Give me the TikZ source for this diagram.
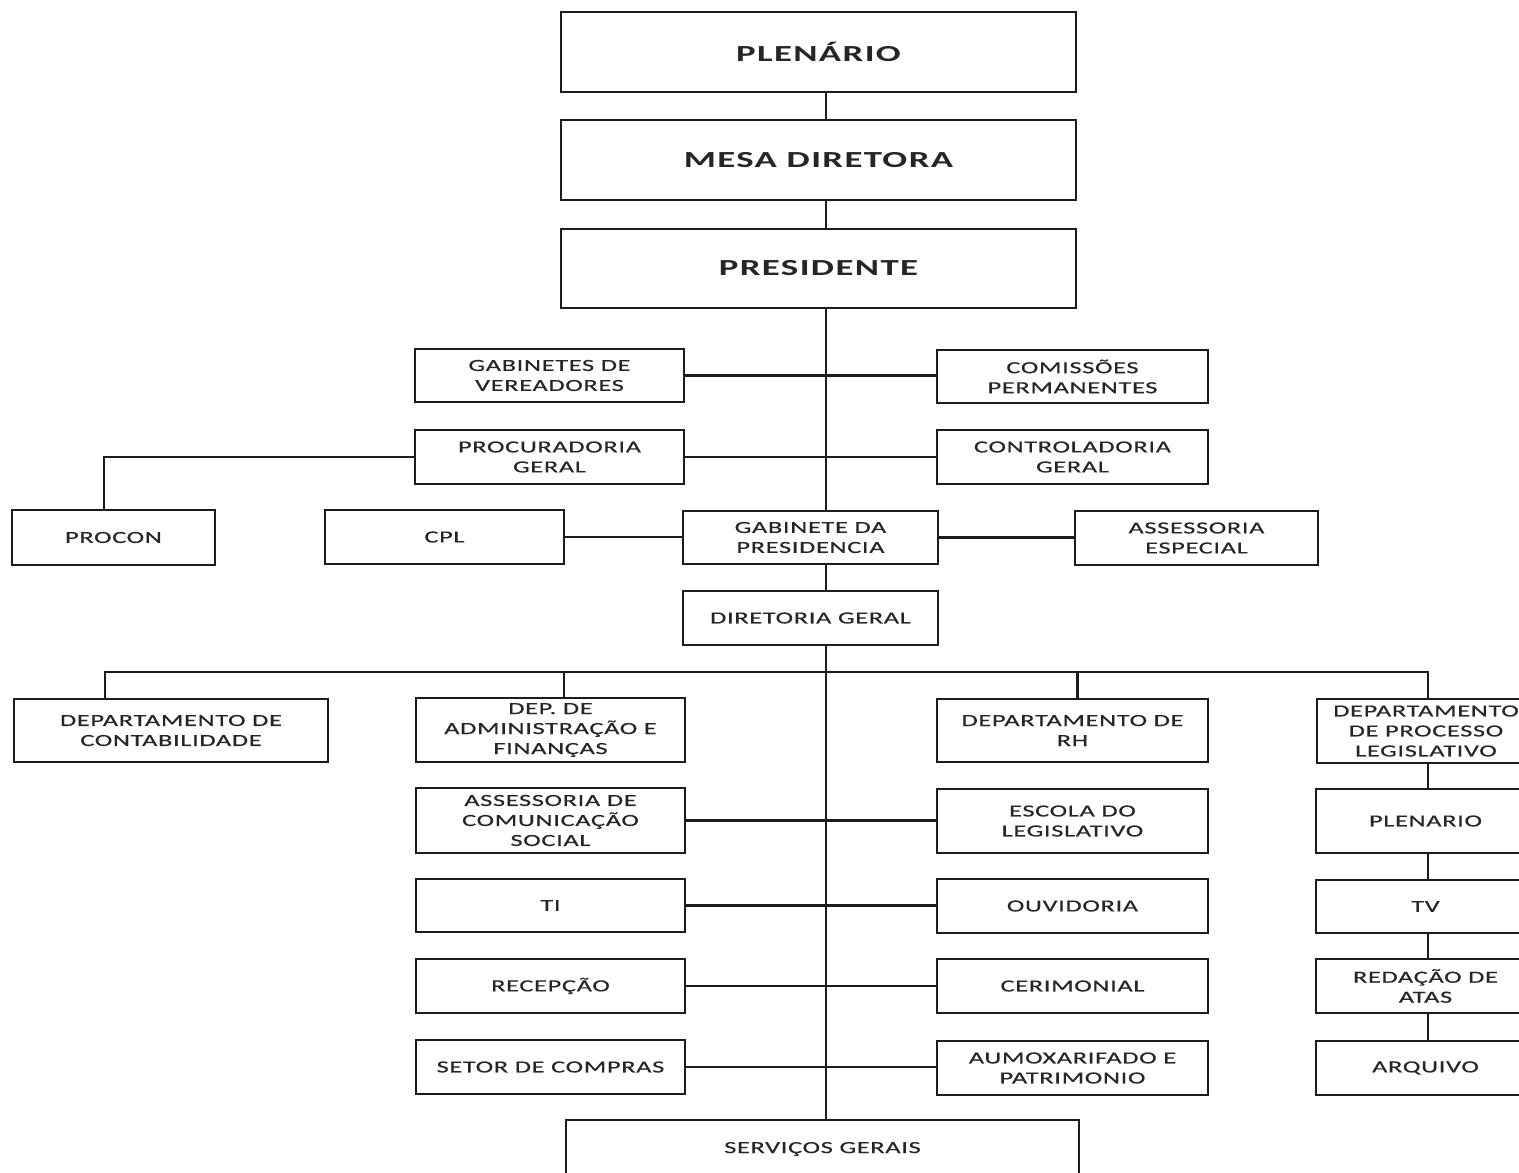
\documentclass[tikz,border=0pt]{standalone}
\usepackage{fontspec}
\newfontfamily\labfont[FakeStretch=1.55,LetterSpace=4,FakeBold=0.4]{Carlito}
\newfontfamily\headfont[FakeStretch=1.6,LetterSpace=6]{Carlito}
\definecolor{ink}{HTML}{1C1C1C}
\definecolor{txt}{HTML}{262626}
\begin{document}
\begin{tikzpicture}[x=1pt,y=-1pt,
  box/.style={draw=ink, line width=2.8pt, fill=white, align=center, inner sep=0pt,
    text=txt, font=\labfont\fontsize{17}{20}\selectfont},
  headbox/.style={box, font=\headfont\bfseries\fontsize{23}{26}\selectfont},
  conn/.style={draw=ink, line width=2.6pt}]
\useasboundingbox (0,0) rectangle (1519,1173);
\fill[white] (0,0) rectangle (1519,1173);
\clip (0,0) rectangle (1519,1173);
\coordinate (trunk) at (826,0);
\coordinate (col) at (1428,0);
\coordinate (bus) at (826,672);
% top hierarchy
\node[headbox, minimum width=515, minimum height=80] (plen) at (818.5,52) {PLENÁRIO};
\node[headbox, minimum width=515, minimum height=80] (mesa) at (818.5,160) {MESA DIRETORA};
\node[headbox, minimum width=515, minimum height=79] (pres) at (818.5,268.5) {PRESIDENTE};
% advisory rows
\node[box, minimum width=269, minimum height=53] (gabver) at (549.5,375.5) {GABINETES DE\\VEREADORES};
\node[box, minimum width=271, minimum height=53] (comis) at (1072.5,376.5) {COMISSÕES\\PERMANENTES};
\node[box, minimum width=269, minimum height=54] (procur) at (549.5,457) {PROCURADORIA\\GERAL};
\node[box, minimum width=271, minimum height=54] (contr) at (1072.5,457) {CONTROLADORIA\\GERAL};
\node[box, minimum width=203, minimum height=55] (procon) at (113.5,537.5) {PROCON};
\node[box, minimum width=239, minimum height=54] (cpl) at (444.5,537) {CPL};
\node[box, minimum width=255, minimum height=53] (gabpres) at (810.5,537.5) {GABINETE DA\\PRESIDENCIA};
\node[box, minimum width=243, minimum height=54] (assesp) at (1196.5,538) {ASSESSORIA\\ESPECIAL};
\node[box, minimum width=255, minimum height=54] (dirger) at (810.5,618) {DIRETORIA GERAL};
% departments
\node[box, minimum width=314, minimum height=63] (contab) at (171,730.5) {DEPARTAMENTO DE\\CONTABILIDADE};
\node[box, minimum width=269, minimum height=64] (depadm) at (550.5,730) {DEP. DE\\ADMINISTRAÇÃO E\\FINANÇAS};
\node[box, minimum width=271, minimum height=63] (deprh) at (1072.5,730.5) {DEPARTAMENTO DE\\RH};
\node[box, minimum width=218, minimum height=64] (depleg) at (1426,731) {DEPARTAMENTO\\DE PROCESSO\\LEGISLATIVO};
% lower rows
\node[box, minimum width=269, minimum height=65] (ascom) at (550.5,820.5) {ASSESSORIA DE\\COMUNICAÇÃO\\SOCIAL};
\node[box, minimum width=271, minimum height=64] (escola) at (1072.5,821) {ESCOLA DO\\LEGISLATIVO};
\node[box, minimum width=219, minimum height=64] (plen2) at (1425.5,821) {PLENARIO};
\node[box, minimum width=269, minimum height=53] (ti) at (550.5,905.5) {TI};
\node[box, minimum width=271, minimum height=54] (ouv) at (1072.5,906) {OUVIDORIA};
\node[box, minimum width=219, minimum height=53] (tv) at (1425.5,906.5) {TV};
\node[box, minimum width=269, minimum height=54] (recep) at (550.5,986) {RECEPÇÃO};
\node[box, minimum width=271, minimum height=54] (cerim) at (1072.5,986) {CERIMONIAL};
\node[box, minimum width=219, minimum height=54] (redac) at (1425.5,986) {REDAÇÃO DE\\ATAS};
\node[box, minimum width=269, minimum height=54] (setor) at (550.5,1067) {SETOR DE COMPRAS};
\node[box, minimum width=271, minimum height=54] (almox) at (1072.5,1068) {AUMOXARIFADO E\\PATRIMONIO};
\node[box, minimum width=219, minimum height=54] (arq) at (1425.5,1068) {ARQUIVO};
\node[box, minimum width=513, minimum height=58] (serv) at (822.5,1149) {SERVIÇOS GERAIS};
% connectors: trunk
\draw[conn] (plen.south -| trunk) -- (mesa.north -| trunk);
\draw[conn] (mesa.south -| trunk) -- (pres.north -| trunk);
\draw[conn] (pres.south -| trunk) -- (gabpres.north -| trunk);
\draw[conn] (gabpres.south -| trunk) -- (dirger.north -| trunk);
\draw[conn] (dirger.south -| trunk) -- (serv.north -| trunk);
% side links
\draw[conn] (gabver.east) -- (gabver.east -| comis.west);
\draw[conn] (procur.east) -- (procur.east -| contr.west);
\draw[conn] (procur.west) -| ([xshift=-9.5pt]procon.north);
\draw[conn] (cpl.east) -- (cpl.east -| gabpres.west);
\draw[conn] (gabpres.east) -- (gabpres.east -| assesp.west);
% bus to departments
\draw[conn] ([xshift=-66pt]contab.north) |- (bus) -| ([xshift=2pt]depleg.north);
\draw[conn] ([xshift=13.5pt]depadm.north) -- ([xshift=13.5pt]depadm.north |- bus);
\draw[conn] ([xshift=5pt]deprh.north) -- ([xshift=5pt]deprh.north |- bus);
% lower rows
\draw[conn] (ascom.east) -- (ascom.east -| escola.west);
\draw[conn] (ti.east) -- (ti.east -| ouv.west);
\draw[conn] (recep.east) -- (recep.east -| cerim.west);
\draw[conn] (setor.east) -- (setor.east -| almox.west);
% right column
\draw[conn] (depleg.south -| col) -- (plen2.north -| col);
\draw[conn] (plen2.south -| col) -- (tv.north -| col);
\draw[conn] (tv.south -| col) -- (redac.north -| col);
\draw[conn] (redac.south -| col) -- (arq.north -| col);
\end{tikzpicture}
\end{document}
